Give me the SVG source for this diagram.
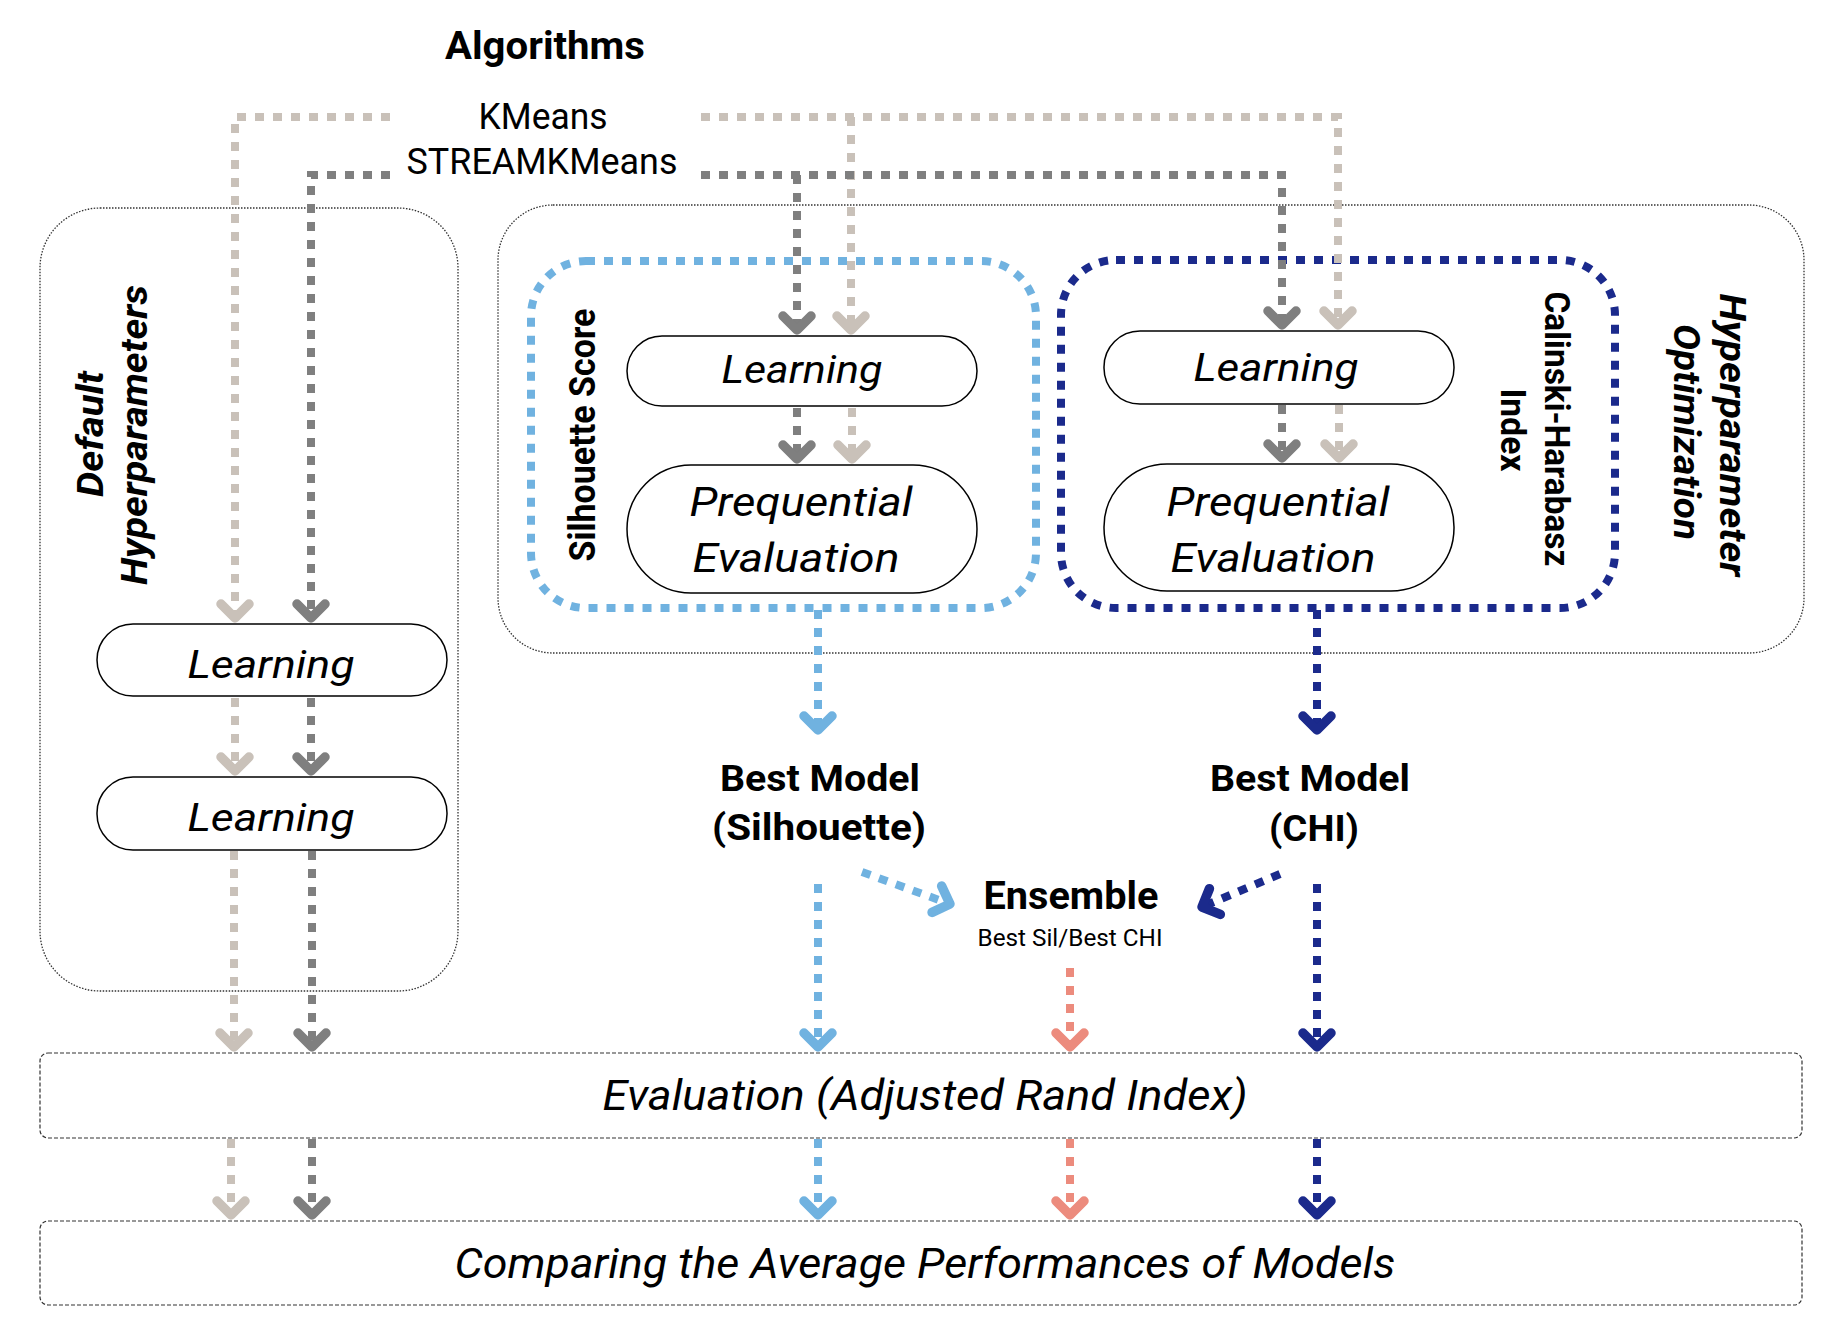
<svg xmlns="http://www.w3.org/2000/svg" width="1840" height="1344" viewBox="0 0 1840 1344">
<style>
text{font-family:Roboto,"Liberation Sans",sans-serif;fill:#000;text-anchor:middle}
.b{font-weight:bold}
.i{font-style:italic}
.node{fill:#fff;stroke:#000;stroke-width:1.5}
.outer{fill:none;stroke:#333;stroke-width:1.3;stroke-dasharray:1.5 1.5}
.band{fill:none;stroke:#333;stroke-width:1.2;stroke-dasharray:4 2}
.c{fill:none;stroke-width:8;stroke-dasharray:9 9}
.lg{stroke:#c9c1b9}.dg{stroke:#7f7f7f}.lb{stroke:#70b2e0}.nv{stroke:#1b2a8c}.sm{stroke:#ec8b7d}
</style>
<defs>
<marker id="m-lg" viewBox="-20 -20 28 40" markerWidth="28" markerHeight="40" refX="0" refY="0" orient="auto" markerUnits="userSpaceOnUse"><path d="M-14,-14 L0,0 L-14,14" fill="none" stroke="#c9c1b9" stroke-width="9.5" stroke-linecap="round" stroke-linejoin="round"/></marker>
<marker id="m-dg" viewBox="-20 -20 28 40" markerWidth="28" markerHeight="40" refX="0" refY="0" orient="auto" markerUnits="userSpaceOnUse"><path d="M-14,-14 L0,0 L-14,14" fill="none" stroke="#7f7f7f" stroke-width="9.5" stroke-linecap="round" stroke-linejoin="round"/></marker>
<marker id="m-lb" viewBox="-20 -20 28 40" markerWidth="28" markerHeight="40" refX="0" refY="0" orient="auto" markerUnits="userSpaceOnUse"><path d="M-14,-14 L0,0 L-14,14" fill="none" stroke="#70b2e0" stroke-width="9.5" stroke-linecap="round" stroke-linejoin="round"/></marker>
<marker id="m-nv" viewBox="-20 -20 28 40" markerWidth="28" markerHeight="40" refX="0" refY="0" orient="auto" markerUnits="userSpaceOnUse"><path d="M-14,-14 L0,0 L-14,14" fill="none" stroke="#1b2a8c" stroke-width="9.5" stroke-linecap="round" stroke-linejoin="round"/></marker>
<marker id="m-sm" viewBox="-20 -20 28 40" markerWidth="28" markerHeight="40" refX="0" refY="0" orient="auto" markerUnits="userSpaceOnUse"><path d="M-14,-14 L0,0 L-14,14" fill="none" stroke="#ec8b7d" stroke-width="9.5" stroke-linecap="round" stroke-linejoin="round"/></marker>
</defs>
<rect width="1840" height="1344" fill="#fff"/>

<g id="default-hyperparameters">
<rect class="outer" x="40" y="208" width="418" height="783" rx="60"/>
<text class="b i" font-size="36" transform="translate(103,434) rotate(-90)" textLength="126" lengthAdjust="spacingAndGlyphs">Default</text>
<text class="b i" font-size="36" transform="translate(147,435) rotate(-90)" textLength="300" lengthAdjust="spacingAndGlyphs">Hyperparameters</text>
</g>
<g id="hyperparameter-optimization">
<rect class="outer" x="498" y="205" width="1306" height="448" rx="55"/>
<text class="b i" font-size="36" transform="translate(1720,435) rotate(90)" textLength="283" lengthAdjust="spacingAndGlyphs">Hyperparameter</text>
<text class="b i" font-size="36" transform="translate(1674,432) rotate(90)" textLength="216" lengthAdjust="spacingAndGlyphs">Optimization</text>
</g>
<g id="silhouette-score">
<rect class="c lb" x="531" y="261" width="505" height="347" rx="55"/>
<text class="b" font-size="36" transform="translate(595,435) rotate(-90)" textLength="253" lengthAdjust="spacingAndGlyphs">Silhouette Score</text>
</g>
<g id="chi-index">
<rect class="c nv" x="1061" y="260" width="554" height="348" rx="55"/>
<text class="b" font-size="35" transform="translate(1545,429) rotate(90)" textLength="275" lengthAdjust="spacingAndGlyphs">Calinski-Harabasz</text>
<text class="b" font-size="35" transform="translate(1501,430) rotate(90)" textLength="83" lengthAdjust="spacingAndGlyphs">Index</text>
</g>
<g id="evaluation-ari">
<rect class="band" x="40" y="1053" width="1762" height="85" rx="8"/>
<text class="i" font-size="42" x="925" y="1110" textLength="645" lengthAdjust="spacingAndGlyphs">Evaluation (Adjusted Rand Index)</text>
</g>
<g id="comparing">
<rect class="band" x="40" y="1221" width="1762" height="84" rx="8"/>
<text class="i" font-size="42" x="925" y="1278" textLength="941" lengthAdjust="spacingAndGlyphs">Comparing the Average Performances of Models</text>
</g>

<g id="algorithms">
<text class="b" font-size="39" x="545" y="59" textLength="200" lengthAdjust="spacingAndGlyphs">Algorithms</text>
<text font-size="36" x="543" y="129" textLength="129" lengthAdjust="spacingAndGlyphs">KMeans</text>
<text font-size="36" x="542" y="174" textLength="271" lengthAdjust="spacingAndGlyphs">STREAMKMeans</text>
</g>

<g id="sil-learning">
<rect class="node" x="627" y="336" width="350" height="70" rx="35"/>
<text class="i" font-size="38" x="802" y="383" textLength="161" lengthAdjust="spacingAndGlyphs">Learning</text>
</g>
<g id="sil-prequential">
<rect class="node" x="627" y="465" width="350" height="128" rx="64"/>
<text class="i" font-size="41" x="801" y="516" textLength="223" lengthAdjust="spacingAndGlyphs">Prequential</text>
<text class="i" font-size="41" x="796" y="572" textLength="207" lengthAdjust="spacingAndGlyphs">Evaluation</text>
</g>
<g id="chi-learning">
<rect class="node" x="1104" y="331" width="350" height="73" rx="36"/>
<text class="i" font-size="38" x="1276" y="381" textLength="165" lengthAdjust="spacingAndGlyphs">Learning</text>
</g>
<g id="chi-prequential">
<rect class="node" x="1104" y="464" width="350" height="127" rx="63"/>
<text class="i" font-size="41" x="1278" y="516" textLength="223" lengthAdjust="spacingAndGlyphs">Prequential</text>
<text class="i" font-size="41" x="1273" y="572" textLength="205" lengthAdjust="spacingAndGlyphs">Evaluation</text>
</g>
<g id="default-learning-1">
<rect class="node" x="97" y="624" width="350" height="72" rx="36"/>
<text class="i" font-size="38" x="271" y="678" textLength="167" lengthAdjust="spacingAndGlyphs">Learning</text>
</g>
<g id="default-learning-2">
<rect class="node" x="97" y="777" width="350" height="73" rx="36"/>
<text class="i" font-size="38" x="271" y="831" textLength="167" lengthAdjust="spacingAndGlyphs">Learning</text>
</g>
<g id="best-model-sil">
<text class="b" font-size="37" x="820" y="791" textLength="200" lengthAdjust="spacingAndGlyphs">Best Model</text>
<text class="b" font-size="37" x="819" y="840" textLength="214" lengthAdjust="spacingAndGlyphs">(Silhouette)</text>
</g>
<g id="best-model-chi">
<text class="b" font-size="37" x="1310" y="791" textLength="200" lengthAdjust="spacingAndGlyphs">Best Model</text>
<text class="b" font-size="37" x="1314" y="841" textLength="90" lengthAdjust="spacingAndGlyphs">(CHI)</text>
</g>
<g id="ensemble">
<text class="b" font-size="39" x="1071" y="909" textLength="175" lengthAdjust="spacingAndGlyphs">Ensemble</text>
<text font-size="23" x="1070" y="946" textLength="185" lengthAdjust="spacingAndGlyphs">Best Sil/Best CHI</text>
</g>

<g id="connectors">
<path class="c lg" marker-end="url(#m-lg)" d="M390,117 H235 V618"/>
<path class="c lg" marker-end="url(#m-lg)" d="M701,117 H1338 V325"/>
<path class="c lg" marker-end="url(#m-lg)" d="M851,117 V330"/>
<path class="c lg" marker-end="url(#m-lg)" d="M235,698 V771"/>
<path class="c lg" marker-end="url(#m-lg)" d="M234,851 V1047"/>
<path class="c lg" marker-end="url(#m-lg)" d="M231,1139 V1215"/>
<path class="c lg" marker-end="url(#m-lg)" d="M852,408 V459"/>
<path class="c lg" marker-end="url(#m-lg)" d="M1339,405 V458"/>
<path class="c dg" marker-end="url(#m-dg)" d="M390,175 H311 V618"/>
<path class="c dg" marker-end="url(#m-dg)" d="M701,175 H1282 V325"/>
<path class="c dg" marker-end="url(#m-dg)" d="M797,175 V330"/>
<path class="c dg" marker-end="url(#m-dg)" d="M311,698 V771"/>
<path class="c dg" marker-end="url(#m-dg)" d="M312,851 V1047"/>
<path class="c dg" marker-end="url(#m-dg)" d="M312,1139 V1215"/>
<path class="c dg" marker-end="url(#m-dg)" d="M797,408 V459"/>
<path class="c dg" marker-end="url(#m-dg)" d="M1282,405 V458"/>
<path class="c lb" marker-end="url(#m-lb)" d="M818,610 V730"/>
<path class="c lb" marker-end="url(#m-lb)" d="M818,884 V1047"/>
<path class="c lb" marker-end="url(#m-lb)" d="M818,1139 V1215"/>
<path class="c lb" marker-end="url(#m-lb)" d="M862,872 L950,904"/>
<path class="c nv" marker-end="url(#m-nv)" d="M1317,610 V730"/>
<path class="c nv" marker-end="url(#m-nv)" d="M1317,884 V1047"/>
<path class="c nv" marker-end="url(#m-nv)" d="M1317,1139 V1215"/>
<path class="c nv" marker-end="url(#m-nv)" d="M1280,874 L1202,907"/>
<path class="c sm" marker-end="url(#m-sm)" d="M1070,968 V1047"/>
<path class="c sm" marker-end="url(#m-sm)" d="M1070,1139 V1215"/>
</g>
</svg>
